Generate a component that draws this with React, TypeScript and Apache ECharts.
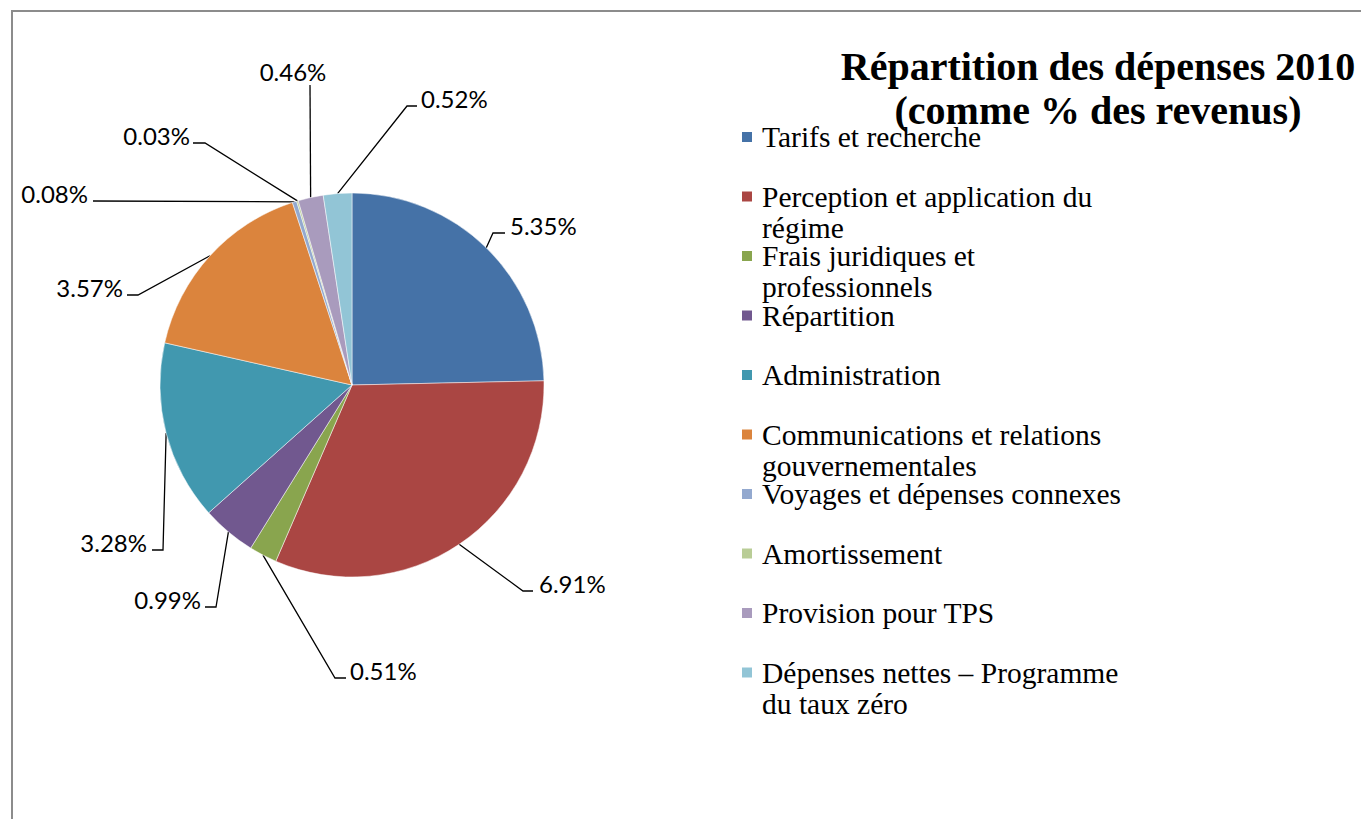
import { useEffect, useRef } from "react";
import * as echarts from "echarts";

// ---- data ----
const categories = [
  "Tarifs et recherche",
  "Perception et application du régime",
  "Frais juridiques et professionnels",
  "Répartition",
  "Administration",
  "Communications et relations gouvernementales",
  "Voyages et dépenses connexes",
  "Amortissement",
  "Provision pour TPS",
  "Dépenses nettes – Programme du taux zéro",
];
const values = [5.35, 6.91, 0.51, 0.99, 3.28, 3.57, 0.08, 0.03, 0.46, 0.52];
const legendLabels = [
  "Tarifs et recherche",
  "Perception et application du\nrégime",
  "Frais juridiques et\nprofessionnels",
  "Répartition",
  "Administration",
  "Communications et relations\ngouvernementales",
  "Voyages et dépenses connexes",
  "Amortissement",
  "Provision pour TPS",
  "Dépenses nettes – Programme\ndu taux zéro",
];
const titleText = "Répartition des dépenses 2010\n(comme % des revenus)";

// ---- styles ----
const colors = [
  "#4572A7",
  "#AA4643",
  "#89A54E",
  "#71588F",
  "#4198AF",
  "#DB843D",
  "#93A9CF",
  "#B9CD96",
  "#A99BBD",
  "#92C5D6",
];

// label guide geometry (styling of the leader lines, Excel-like placement)
const guides: { elbow: number[]; end?: number[]; text: number[]; align: string }[] = [
  { elbow: [493, 233], end: [505, 233], text: [510, 225], align: "left" },
  { elbow: [523, 591], end: [533, 591], text: [539, 583], align: "left" },
  { elbow: [335, 678], end: [346, 678], text: [350, 670], align: "left" },
  { elbow: [216, 607], end: [205, 607], text: [201, 599], align: "right" },
  { elbow: [163, 550], end: [152, 550], text: [147, 542], align: "right" },
  { elbow: [138, 295], end: [127, 295], text: [123, 287], align: "right" },
  { elbow: [93, 201], text: [88, 193], align: "right" },
  { elbow: [205, 143], end: [193, 143], text: [190, 135], align: "right" },
  { elbow: [310, 85], text: [293, 71], align: "center" },
  { elbow: [407, 106], end: [417, 106], text: [421, 98], align: "left" },
];

const LEGEND_LEFT = 740;
const LEGEND_FIRST_CENTER = 137;
const LEGEND_STEP = 59.5;
const LEGEND_LINE = 31;

export default function App() {
  const ref = useRef<HTMLDivElement>(null);

  useEffect(() => {
    if (!ref.current) return;
    const chart = echarts.init(ref.current, undefined, { renderer: "svg" });
    const data = categories.map((name, i) => ({ name, value: values[i] }));

    const legends = categories.map((name, i) => {
      const twoLines = legendLabels[i].includes("\n");
      const center = LEGEND_FIRST_CENTER + i * LEGEND_STEP;
      const halfBox = twoLines ? LEGEND_LINE * 1.5 : LEGEND_LINE / 2;
      return {
        orient: "vertical",
        left: LEGEND_LEFT,
        top: center - halfBox,
        padding: 0,
        itemWidth: 12,
        itemHeight: 12,
        icon: "rect",
        selectedMode: false,
        data: [name],
        // a blank leading line keeps the first text line level with the marker
        formatter: (n: string) => {
          const t = legendLabels[categories.indexOf(n)];
          return t.includes("\n") ? "\n" + t : t;
        },
        textStyle: {
          fontFamily: "Liberation Serif",
          fontSize: 29.5,
          color: "#000",
          lineHeight: LEGEND_LINE,
          padding: [0, 0, 0, 4],
        },
      };
    });

    chart.setOption({
      animation: false,
      backgroundColor: "#ffffff",
      color: colors,
      title: {
        text: titleText,
        left: 1098,
        top: 44,
        padding: 0,
        textAlign: "center",
        textStyle: {
          fontFamily: "Liberation Serif",
          fontSize: 40,
          fontWeight: "bold",
          lineHeight: 44,
          color: "#000",
        },
      },
      legend: legends,
      graphic: [
        {
          type: "rect",
          shape: { x: 12, y: 11, width: 1500, height: 1000 },
          style: { fill: "none", stroke: "#8c8c8c", lineWidth: 2 },
          silent: true,
          z: -10,
        },
      ],
      series: [
        {
          type: "pie",
          center: [352, 385],
          radius: 192,
          startAngle: 90,
          clockwise: true,
          avoidLabelOverlap: false,
          data,
          itemStyle: { borderColor: "#ffffff", borderWidth: 0.5 },
          emphasis: { disabled: true },
          label: {
            show: true,
            position: "outside",
            formatter: (p: any) => `${p.value.toFixed(2)}%`,
            fontFamily: "Lato",
            fontSize: 24,
            color: "#000",
          },
          labelLine: {
            show: true,
            length: 15,
            length2: 10,
            lineStyle: { color: "#000", width: 1.3 },
          },
          labelLayout: (params: any) => {
            const g = guides[params.dataIndex];
            const p0 =
              params.labelLinePoints && params.labelLinePoints[0]
                ? params.labelLinePoints[0]
                : g.elbow;
            const pts = [p0, g.elbow];
            if (g.end) pts.push(g.end);
            return {
              x: g.text[0],
              y: g.text[1],
              align: g.align,
              verticalAlign: "middle",
              labelLinePoints: pts,
            };
          },
        },
      ],
    });

    return () => chart.dispose();
  }, []);

  return (
    <div
      ref={ref}
      style={{ position: "fixed", left: 0, top: 0, width: 1361, height: 819 }}
    />
  );
}
